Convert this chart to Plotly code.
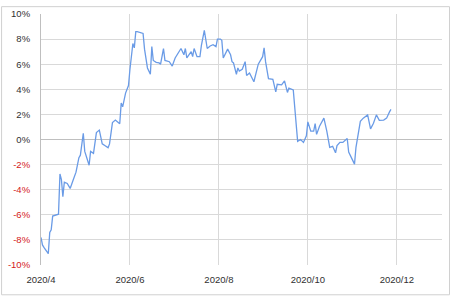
import plotly.graph_objects as go

dates = [
    "2020-04-01", "2020-04-02", "2020-04-03", "2020-04-05", "2020-04-06", "2020-04-07", "2020-04-08",
    "2020-04-09", "2020-04-11", "2020-04-13", "2020-04-14", "2020-04-15", "2020-04-16", "2020-04-17",
    "2020-04-19", "2020-04-21", "2020-04-23", "2020-04-25", "2020-04-27", "2020-04-28", "2020-04-30",
    "2020-05-01", "2020-05-04", "2020-05-05", "2020-05-07", "2020-05-09", "2020-05-11", "2020-05-13",
    "2020-05-15", "2020-05-17", "2020-05-18", "2020-05-20", "2020-05-22", "2020-05-25", "2020-05-26",
    "2020-05-27", "2020-05-29", "2020-05-31",
    "2020-06-01", "2020-06-03", "2020-06-04", "2020-06-05", "2020-06-06", "2020-06-08", "2020-06-10",
    "2020-06-11", "2020-06-12", "2020-06-13", "2020-06-15", "2020-06-16", "2020-06-17", "2020-06-19",
    "2020-06-21", "2020-06-22", "2020-06-24", "2020-06-25", "2020-06-28", "2020-06-30",
    "2020-07-02", "2020-07-05", "2020-07-06", "2020-07-08", "2020-07-09", "2020-07-10", "2020-07-13",
    "2020-07-14", "2020-07-15", "2020-07-17", "2020-07-19", "2020-07-20", "2020-07-22", "2020-07-24",
    "2020-07-26", "2020-07-28", "2020-07-30", "2020-07-31",
    "2020-08-02", "2020-08-03", "2020-08-04", "2020-08-07", "2020-08-09", "2020-08-10", "2020-08-11",
    "2020-08-13", "2020-08-14", "2020-08-15", "2020-08-17", "2020-08-19", "2020-08-20", "2020-08-22",
    "2020-08-25", "2020-08-28", "2020-08-31",
    "2020-09-01", "2020-09-02", "2020-09-04", "2020-09-07", "2020-09-09", "2020-09-10", "2020-09-13",
    "2020-09-15", "2020-09-17", "2020-09-18", "2020-09-21", "2020-09-24", "2020-09-26", "2020-09-28",
    "2020-09-30",
    "2020-10-01", "2020-10-03", "2020-10-05", "2020-10-06", "2020-10-07", "2020-10-09", "2020-10-12",
    "2020-10-14", "2020-10-16", "2020-10-18", "2020-10-20", "2020-10-21", "2020-10-23", "2020-10-25",
    "2020-10-28", "2020-10-29", "2020-10-31",
    "2020-11-02", "2020-11-03", "2020-11-06", "2020-11-08", "2020-11-10", "2020-11-11", "2020-11-13",
    "2020-11-15", "2020-11-17", "2020-11-19", "2020-11-22", "2020-11-24", "2020-11-26", "2020-11-27",
]

values = [
    -7.8, -8.4, -8.6, -8.9, -9.1, -7.4, -7.2,
    -6.1, -6.0, -5.95, -2.75, -3.2, -4.55, -3.4,
    -3.5, -3.9, -3.25, -2.6, -1.45, -1.25, 0.5,
    -0.95, -2.05, -0.95, -1.1, 0.55, 0.75, -0.35,
    -0.5, -0.65, -0.35, 1.35, 1.55, 1.25, 2.9,
    2.6, 3.7, 4.3,
    5.6, 7.65, 7.3, 8.6, 8.6, 8.55, 8.45,
    7.2, 6.2, 5.7, 5.2, 7.4, 6.3, 6.15,
    6.1, 6.0, 7.25, 6.3, 6.2, 5.85,
    6.5, 7.0, 7.25, 6.75, 7.25, 6.5, 7.0,
    6.6, 7.25, 6.6, 6.6, 7.5, 8.7, 7.25,
    7.45, 7.55, 7.4, 8.0,
    8.0, 7.9, 6.5, 7.2, 6.75, 6.2, 6.1,
    5.2, 5.7, 5.45, 5.6, 6.2, 5.1, 5.3,
    4.6, 6.0, 6.6,
    7.3, 6.2, 4.85, 4.8, 3.8, 4.4, 4.35,
    4.67, 3.75, 4.1, 3.95, -0.15, 0.0, -0.23,
    0.3,
    1.4, 0.67, 0.67, 1.26, 0.41, 1.06, 1.7,
    0.67, -0.62, -0.54, -1.06, -0.49, -0.23, -0.23,
    0.08, -1.0, -1.53,
    -1.96, -0.62, 1.45, 1.7, 1.88, 1.96, 0.85,
    1.3, 1.96, 1.53, 1.55, 1.7, 2.2, 2.4,
]

y_ticks = [-10, -8, -6, -4, -2, 0, 2, 4, 6, 8, 10]
y_ticktext = [
    (f'<span style="color:#D42020">{v}%</span>' if v < 0 else f"{v}%") for v in y_ticks
]
x_range = ["2020-04-01", "2021-01-01"]

fig = go.Figure()
fig.add_trace(go.Scatter(
    x=dates, y=values, mode="lines",
    line=dict(color="#6A9BE6", width=1.3),
    showlegend=False, hoverinfo="skip",
))

grid = "#D9D9D9"
fig.update_layout(
    width=450, height=296,
    margin=dict(l=40, r=8, t=8, b=31),
    paper_bgcolor="white", plot_bgcolor="white",
    font=dict(family="Liberation Sans, Arial, sans-serif", size=9.5, color="#303030"),
    xaxis=dict(
        type="date", range=x_range,
        tick0="2020-04-01", dtick="M2", tickformat="%Y/%-m",
        showgrid=True, gridcolor=grid, gridwidth=1,
        zeroline=False, showline=False, ticks="",
        ticklabelstandoff=7,
    ),
    yaxis=dict(
        range=[-10, 10], tickvals=y_ticks, ticktext=y_ticktext,
        showgrid=True, gridcolor=grid, gridwidth=1,
        zeroline=True, zerolinecolor="#BFBFBF", zerolinewidth=1,
        showline=True, linecolor="#BFBFBF", ticks="",
        ticklabelstandoff=8,
    ),
)

fig.add_shape(
    type="rect", xref="paper", yref="paper",
    x0=-0.0983, x1=1.0187, y0=-0.1187, y1=1.0292,
    line=dict(color="#D0D0D0", width=1), fillcolor="rgba(0,0,0,0)", layer="below",
)

fig.write_html("out.html")
